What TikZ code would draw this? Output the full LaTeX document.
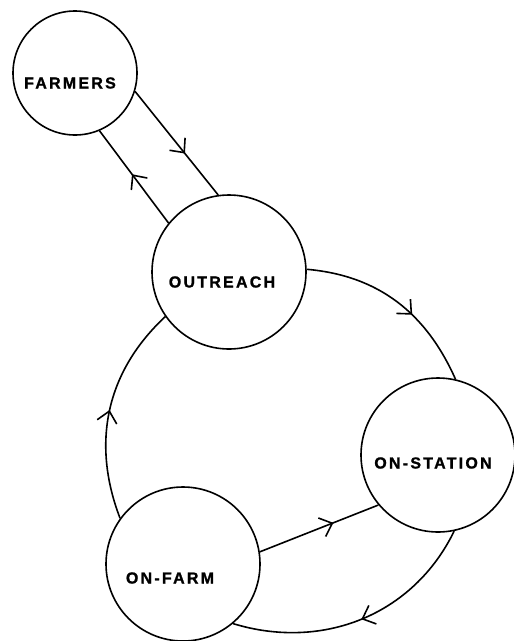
\documentclass[tikz,border=0pt]{standalone}
\usepackage{fontspec}
\setmainfont{Liberation Sans}
\newfontfamily\unitfont[LetterSpace=14,FakeBold=1.2]{Liberation Sans Bold}
\usetikzlibrary{arrows.meta,decorations.markings}

\begin{document}
\begin{tikzpicture}[
  x=1pt, y=1pt,
  line width=1.6pt,
  unit/.style={draw, circle, line width=1.6pt, inner sep=0pt},
  bigunit/.style={unit, minimum size=154pt},
  smallunit/.style={unit, minimum size=124pt},
  tag/.style={font=\unitfont\fontsize{16}{16}\selectfont, inner sep=0pt},
  flow/.style={decoration={markings,
      mark=at position #1 with {\arrow{Straight Barb[length=11pt,width=20pt]}}},
      postaction={decorate}},
  flow/.default=0.5
]
\useasboundingbox (0,0) rectangle (514,-641);

% ====================== UNITS ======================
\node[smallunit] (farmers)  at (75,-73)   {};
\node[bigunit]   (outreach) at (229,-272) {};
\node[bigunit]   (station)  at (438,-455) {};
\node[bigunit]   (farm)     at (183,-564) {};

\node[tag] (farmersTag)  at ([shift={(-5,-10)}]farmers)  {FARMERS};
\node[tag] (outreachTag) at ([shift={(-7,-10)}]outreach) {OUTREACH};
\node[tag] (stationTag)  at ([shift={(-5,-8)}]station)   {ON-STATION};
\node[tag] (farmTag)     at ([shift={(-13,-14)}]farm)    {ON-FARM};

% ====================== FLOWS ======================
\draw[flow=0.6]  (farmers.-17) -- (outreach.98);
\draw[flow=0.53] (outreach.141) -- (farmers.-67);

% big loop
\draw[flow=0.6] (outreach.2) to[out=-5,in=114] (station.77);
\draw[flow]     (station.-78) to[out=-116,in=-17] (farm.-50);
\draw[flow]     (farm.144) to[out=111,in=223] (outreach.215);

\draw[flow=0.62] (farm.9) -- (station.220);

\end{tikzpicture}
\end{document}
